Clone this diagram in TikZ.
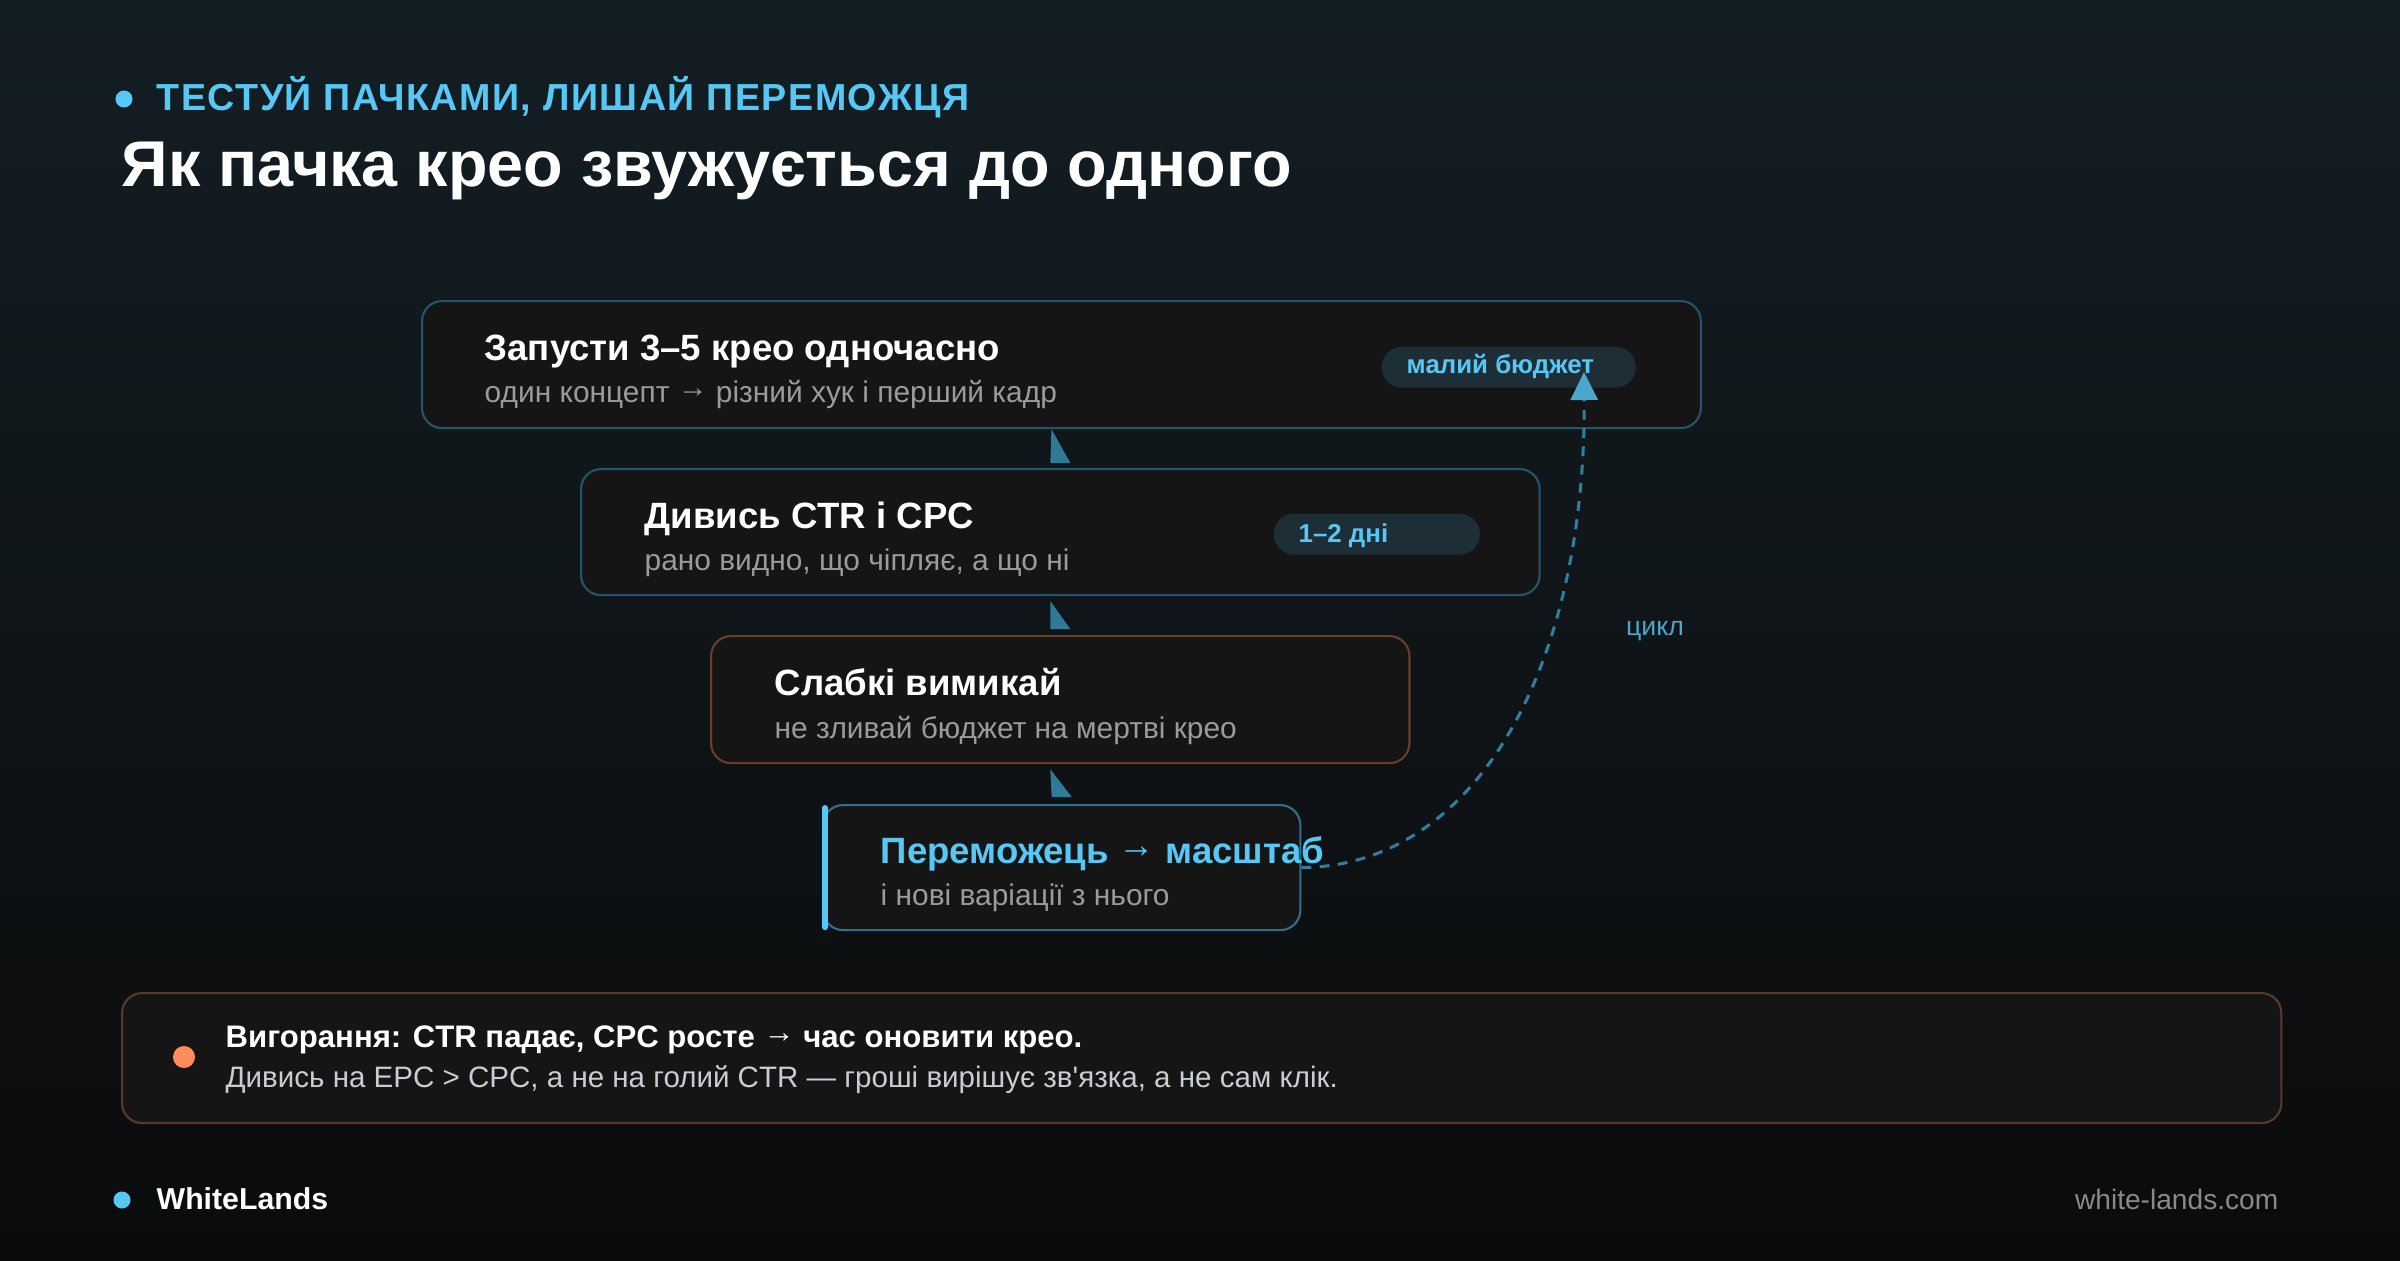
\documentclass[tikz,border=0pt]{standalone}
\usepackage{fontspec}
\setmainfont{Liberation Sans}
\newfontfamily\kickerfont[LetterSpace=4]{Liberation Sans}
\usetikzlibrary{arrows.meta}

\definecolor{bgtop}{HTML}{131E24}
\definecolor{bgmid}{HTML}{0F161A}
\definecolor{bgbot}{HTML}{0B0B0B}
\definecolor{accent}{HTML}{56C8F5}
\definecolor{boxfill}{HTML}{151515}
\definecolor{boxline}{HTML}{24556B}
\definecolor{boxlit}{HTML}{2F6F8C}
\definecolor{boxbrown}{HTML}{6A3E2A}
\definecolor{noteline}{HTML}{573A2C}
\definecolor{notegray}{HTML}{9B9B9B}
\definecolor{pillfill}{HTML}{1E2E36}
\definecolor{wedgeblue}{HTML}{2F7A96}
\definecolor{cycleblue}{HTML}{2F7F9E}
\definecolor{cyclehead}{HTML}{4AA6CC}
\definecolor{warm}{HTML}{FF8C5A}
\definecolor{lightgray}{HTML}{C9CDD3}
\definecolor{footgray}{HTML}{8A8A8A}

\newcommand{\arr}{\raisebox{0.14em}{→}}

\begin{document}
\begin{tikzpicture}[x=0.01cm, y=-0.01cm,
  every node/.style={inner sep=0pt},
  stepbox/.style={draw=boxline, fill=boxfill, line width=0.6pt, rounded corners=0.2cm, anchor=north west},
  steptitle/.style={anchor=base west, text=white, font=\fontsize{10.4pt}{12pt}\selectfont\bfseries},
  stepnote/.style={anchor=base west, text=notegray, font=\fontsize{8.5pt}{10pt}\selectfont},
  pill/.style={fill=pillfill, rounded corners=0.205cm, minimum height=0.41cm, anchor=north west},
  pilltext/.style={anchor=base west, text=accent, font=\fontsize{7.35pt}{9pt}\selectfont\bfseries},
  stepwedge/.style={fill=wedgeblue},
  cyclepath/.style={cycleblue, line width=0.85pt, dash pattern=on 2.8pt off 2.4pt,
    -{Triangle[length=0.28cm, width=0.27cm, color=cyclehead]}}]

  % Background
  \shade[top color=bgtop, middle color=bgmid, bottom color=bgbot] (0,0) rectangle (2400,1260);
  \useasboundingbox (0,0) rectangle (2400,1260);

  % Heading
  \fill[accent] (124,99) circle (0.085cm);
  \node[anchor=base west, text=accent, font=\kickerfont\fontsize{10.7pt}{12pt}\selectfont\bfseries] (kicker) at (156,110) {ТЕСТУЙ ПАЧКАМИ, ЛИШАЙ ПЕРЕМОЖЦЯ};
  \node[anchor=base west, text=white, font=\fontsize{18.4pt}{22pt}\selectfont\bfseries] (title) at (121,186) {Як пачка крео звужується до одного};

  % Funnel steps
  \node[stepbox, minimum width=12.78cm, minimum height=1.27cm] (b1) at (421,300) {};
  \node[stepbox, minimum width=9.58cm, minimum height=1.26cm] (b2) at (580,468) {};
  \node[stepbox, draw=boxbrown, minimum width=6.98cm, minimum height=1.27cm] (b3) at (710,635) {};
  \node[stepbox, draw=boxlit, minimum width=4.77cm, minimum height=1.25cm] (b4) at (822,804) {};
  \draw[accent, line width=1.7pt, line cap=round] ([xshift=0.03cm, yshift=-0.04cm]b4.north west) -- ([xshift=0.03cm, yshift=0.04cm]b4.south west);

  \node[steptitle] (t1) at (484,360) {Запусти 3–5 крео одночасно};
  \node[stepnote] (n1) at (484,402) {один концепт \arr{} різний хук і перший кадр};
  \node[steptitle] (t2) at (644,528) {Дивись CTR і CPC};
  \node[stepnote] (n2) at (644,570) {рано видно, що чіпляє, а що ні};
  \node[steptitle] (t3) at (774,695) {Слабкі вимикай};
  \node[stepnote] (n3) at (774,738) {не зливай бюджет на мертві крео};
  \node[steptitle, text=accent] (t4) at (880,863) {Переможець \arr{} масштаб};
  \node[stepnote] (n4) at (880,905) {і нові варіації з нього};

  % Tags
  \node[pill, minimum width=2.54cm] (budget) at (1381,346) {};
  \node[pilltext] (budgettext) at (1406,373) {малий бюджет};
  \node[pill, minimum width=2.06cm] (days) at (1273,513) {};
  \node[pilltext] (daystext) at (1298,542) {1–2 дні};

  % Wedges between steps
  \fill[stepwedge] ([xshift=-0.1cm]b1.south) -- ([xshift=-0.1cm, yshift=0.05cm]b2.north) -- ([xshift=0.1cm, yshift=0.05cm]b2.north) -- cycle;
  \fill[stepwedge] ([xshift=-0.1cm, yshift=-0.05cm]b2.south) -- ([xshift=-0.1cm, yshift=0.06cm]b3.north) -- ([xshift=0.1cm, yshift=0.06cm]b3.north) -- cycle;
  \fill[stepwedge] ([xshift=-0.1cm, yshift=-0.05cm]b3.south) -- ([xshift=-0.1cm, yshift=0.07cm]b4.north) -- ([xshift=0.1cm, yshift=0.07cm]b4.north) -- cycle;

  % Cycle back to the start
  \coordinate (looptip) at (1584,372);
  \draw[cyclepath] (b4.east) .. controls (1480,866) and (1586,660) .. (looptip);
  \node[text=cyclehead, font=\fontsize{7.6pt}{9pt}\selectfont] (cyclelabel) at (1655,631) {цикл};

  % Burnout note
  \node[stepbox, draw=noteline, minimum width=21.58cm, minimum height=1.30cm] (burnout) at (121,992) {};
  \fill[warm] (184,1057) circle (0.11cm);
  \node[anchor=base west, text=white, font=\fontsize{8.85pt}{10pt}\selectfont\bfseries] (burnouthead) at (225,1047) {Вигорання: CTR падає, CPC росте \arr{} час оновити крео.};
  \node[anchor=base west, text=lightgray, font=\fontsize{8.4pt}{10pt}\selectfont] (burnoutnote) at (225,1087) {Дивись на EPC > CPC, а не на голий CTR — гроші вирішує зв\textquotesingle{}язка, а не сам клік.};

  % Footer
  \fill[accent] (122,1200) circle (0.085cm);
  \node[anchor=base west, text=white, font=\fontsize{8.6pt}{10pt}\selectfont\bfseries] (brand) at (156,1209) {WhiteLands};
  \node[anchor=base east, text=footgray, font=\fontsize{8pt}{10pt}\selectfont] (site) at (2279,1209) {white-lands.com};

\end{tikzpicture}
\end{document}
